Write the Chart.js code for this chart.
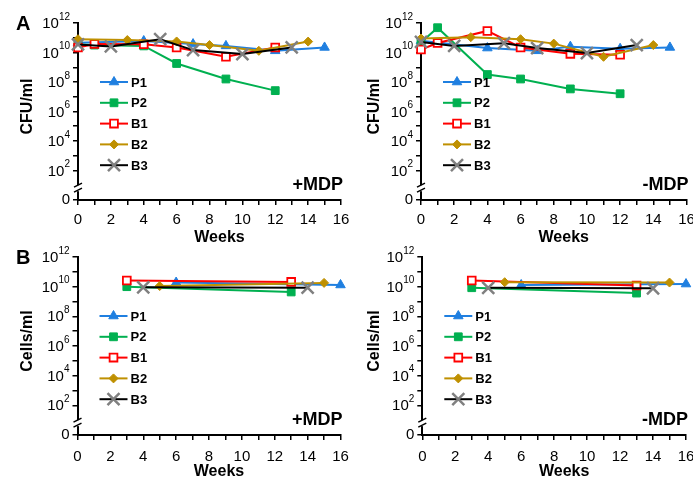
<!DOCTYPE html>
<html>
<head>
<meta charset="utf-8">
<script src="https://cdn.jsdelivr.net/npm/chart.js@4/dist/chart.umd.min.js"></script>
<style>
  html, body { margin: 0; padding: 0; background: #fff; overflow: hidden; }
  #wrap { position: relative; width: 693px; height: 479px; overflow: hidden; }
  #wrap canvas { position: absolute; left: 0; top: 0; }
</style>
</head>
<body>
<div id="wrap">
  <canvas id="aPlus" width="720" height="479"></canvas>
  <canvas id="aMinus" width="720" height="479"></canvas>
  <canvas id="bPlus" width="720" height="479"></canvas>
  <canvas id="bMinus" width="720" height="479"></canvas>
</div>
<script>
'use strict';

var seriesNames = ['P1', 'P2', 'B1', 'B2', 'B3'];

// sampling weeks, panel A (CFU/ml)
var weeksA_P1 = [0, 4, 7, 9, 12, 15];
var weeksA_P2 = [0, 1, 4, 6, 9, 12];
var weeksA_B1 = [0, 1, 4, 6, 9, 12];
var weeksA_B2 = [0, 3, 6, 8, 11, 14];
var weeksA_B3 = [0, 2, 5, 7, 10, 13];

// sampling weeks, panel B (Cells/ml)
var weeksB_P1 = [6, 16];
var weeksB_P2 = [3, 13];
var weeksB_B1 = [3, 13];
var weeksB_B2 = [5, 15];
var weeksB_B3 = [4, 14];

// A, +MDP
var aPlusP1 = [4.6e10, 6.0e10, 3.7e10, 2.8e10, 1.3e10, 2.2e10];
var aPlusP2 = [3.5e10, 3.2e10, 2.8e10, 1.8e9, 1.6e8, 2.6e7];
var aPlusB1 = [2.2e10, 3.8e10, 3.6e10, 2.2e10, 5.1e9, 2.2e10];
var aPlusB2 = [8.0e10, 7.0e10, 5.6e10, 3.2e10, 1.3e10, 5.5e10];
var aPlusB3 = [3.5e10, 2.6e10, 8.0e10, 1.45e10, 7.8e9, 2.2e10];

// A, -MDP
var aMinusP1 = [6.2e10, 2.0e10, 1.3e10, 2.5e10, 1.8e10, 2.2e10];
var aMinusP2 = [4.7e10, 4.8e11, 3.2e8, 1.6e8, 3.4e7, 1.6e7];
var aMinusB1 = [1.6e10, 4.4e10, 2.9e11, 2.2e10, 8.1e9, 7.1e9];
var aMinusB2 = [8.9e10, 1.1e11, 8.0e10, 4.0e10, 5.1e9, 3.2e10];
var aMinusB3 = [5.2e10, 2.8e10, 4.3e10, 2.0e10, 9.1e9, 3.2e10];

// B, +MDP
var bPlusP1 = [1.9e10, 1.3e10];
var bPlusP2 = [1.0e10, 4.4e9];
var bPlusB1 = [2.6e10, 2.1e10];
var bPlusB2 = [1.1e10, 1.8e10];
var bPlusB3 = [9.1e9, 8.5e9];

// B, -MDP
var bMinusP1 = [1.3e10, 1.5e10];
var bMinusP2 = [8.5e9, 3.7e9];
var bMinusB1 = [2.6e10, 1.2e10];
var bMinusB2 = [2.0e10, 1.9e10];
var bMinusB3 = [8.3e9, 7.8e9];

// y axis: tick marks at decades, labels at even powers ("0" stands for 10^0)
var tickExps = [0, 2, 3, 4, 5, 6, 7, 8, 9, 10, 11, 12];
var labelExps = [0, 2, 4, 6, 8, 10, 12];

var W = 720, H = 479;
var FONT = "Arial, 'Liberation Sans', sans-serif";
Chart.defaults.font.family = FONT;
Chart.defaults.color = '#000';

var styles = {
  P1: { line: '#1F7FE0', shape: 'triangle', r: 5.5, fill: '#1F7FE0', edge: '#1F7FE0', bw: 1 },
  P2: { line: '#00B050', shape: 'rect', r: 5.5, fill: '#00B050', edge: '#00B050', bw: 1 },
  B1: { line: '#FF0000', shape: 'rect', r: 5.5, fill: '#FFFFFF', edge: '#FF0000', bw: 1.8 },
  B2: { line: '#BF9000', shape: 'rectRot', r: 4.5, fill: '#BF9000', edge: '#BF9000', bw: 1 },
  B3: { line: '#000000', shape: 'crossRot', r: 8.5, fill: '#808080', edge: '#808080', bw: 2.5 }
};

var decor = {
  id: 'decor',
  afterDraw: function (chart, args, opts) {
    var ctx = chart.ctx, area = chart.chartArea, y = chart.scales.y;
    var ax = area.left;
    ctx.save();
    ctx.fillStyle = '#000';
    ctx.textBaseline = 'middle';
    ctx.textAlign = 'right';
    labelExps.forEach(function (e) {
      var py = y.getPixelForValue(Math.pow(10, e));
      var rx = ax - 8;
      if (e === 0) {
        ctx.font = '15px ' + FONT;
        ctx.fillText('0', rx, py);
        return;
      }
      ctx.font = '10px ' + FONT;
      var ew = ctx.measureText(String(e)).width;
      ctx.fillText(String(e), rx, py - 6);
      ctx.font = '15px ' + FONT;
      ctx.fillText('10', rx - ew, py + 1);
    });

    // axis break between 0 and 10^2
    var by = y.getPixelForValue(Math.pow(10, 0.8));
    ctx.fillStyle = '#fff';
    ctx.fillRect(ax - 3, by - 3, 6, 6);
    ctx.strokeStyle = '#000';
    ctx.lineWidth = 1.5;
    ctx.beginPath();
    ctx.moveTo(ax - 4, by - 1); ctx.lineTo(ax + 4, by - 5);
    ctx.moveTo(ax - 4, by + 4); ctx.lineTo(ax + 4, by);
    ctx.stroke();

    // legend inside the plot
    var drawPoint = Chart.helpers && Chart.helpers.drawPoint;
    chart.data.datasets.forEach(function (ds, i) {
      var ly = area.top + 59 + i * 20.8;
      var lx = ax + 22;
      ctx.strokeStyle = ds.borderColor;
      ctx.lineWidth = 2;
      ctx.beginPath(); ctx.moveTo(lx, ly); ctx.lineTo(lx + 28, ly); ctx.stroke();
      if (drawPoint) {
        ctx.fillStyle = ds.pointBackgroundColor;
        ctx.strokeStyle = ds.pointBorderColor;
        ctx.lineWidth = ds.pointBorderWidth;
        drawPoint(ctx, { pointStyle: ds.pointStyle, radius: ds.pointRadius, borderWidth: ds.pointBorderWidth, rotation: 0 }, lx + 14, ly);
      }
      ctx.fillStyle = '#000';
      ctx.textAlign = 'left';
      ctx.font = 'bold 13px ' + FONT;
      ctx.fillText(ds.label, lx + 31, ly + 1);
    });

    // titles, tag, panel letter
    ctx.fillStyle = '#000';
    ctx.font = 'bold 16px ' + FONT;
    ctx.textAlign = 'center';
    ctx.fillText('Weeks', (area.left + area.right) / 2 + 10, area.bottom + opts.xTitleDy);
    ctx.save();
    ctx.translate(opts.yTitleX, (area.top + area.bottom) / 2 - 5);
    ctx.rotate(-Math.PI / 2);
    ctx.fillText(opts.yTitle, 0, 0);
    ctx.restore();

    ctx.textAlign = 'right';
    ctx.font = 'bold 18px ' + FONT;
    ctx.fillText(opts.tag, area.right + 2, area.bottom - 15);
    if (opts.letter) {
      ctx.textAlign = 'left';
      ctx.textBaseline = 'alphabetic';
      ctx.font = 'bold 20px ' + FONT;
      ctx.fillText(opts.letter, 16, area.top + 7);
    }
    ctx.restore();
  }
};

function makePanel(id, p) {
  var datasets = seriesNames.map(function (name, i) {
    var st = styles[name];
    return {
      label: name,
      data: p.weeks[i].map(function (w, k) { return { x: w, y: p.values[i][k] }; }),
      borderColor: st.line,
      borderWidth: 2,
      pointStyle: st.shape,
      pointRadius: st.r,
      pointBackgroundColor: st.fill,
      pointBorderColor: st.edge,
      pointBorderWidth: st.bw,
      tension: 0,
      clip: false,
      order: 4 - i
    };
  });
  var padLeft = p.left > 346 ? 346 : 0;
  new Chart(document.getElementById(id), {
    type: 'line',
    data: { datasets: datasets },
    plugins: [decor],
    options: {
      responsive: false,
      animation: false,
      devicePixelRatio: 1,
      layout: { padding: { left: padLeft, right: W - p.right, top: p.top, bottom: H - p.bottom - p.xH } },
      plugins: {
        legend: { display: false },
        tooltip: { enabled: false },
        decor: { tag: p.tag, letter: p.letter, yTitle: p.yTitle, yTitleX: p.yTitleX, xTitleDy: p.xTitleDy }
      },
      scales: {
        x: {
          type: 'linear', min: 0, max: 16,
          ticks: {
            stepSize: 1, autoSkip: false, maxRotation: 0, padding: p.tickPad,
            font: { size: 15 }, color: '#000',
            callback: function (v) { return v % 2 === 0 ? String(v) : ''; }
          },
          grid: { drawOnChartArea: false, drawTicks: true, tickLength: 5, tickColor: '#000', lineWidth: 1.5 },
          border: { display: true, color: '#000', width: 2 },
          afterFit: function (s) { s.height = p.xH; }
        },
        y: {
          type: 'logarithmic', min: 1, max: 1e12,
          afterBuildTicks: function (s) {
            s.ticks = tickExps.map(function (e) { return { value: Math.pow(10, e) }; });
          },
          ticks: { display: false, autoSkip: false },
          grid: { drawOnChartArea: false, drawTicks: true, tickLength: 5, tickColor: '#000', lineWidth: 1.5 },
          border: { display: true, color: '#000', width: 2 },
          afterFit: function (s) { s.width = p.left - padLeft; s.paddingTop = 0; s.paddingBottom = 0; }
        }
      }
    }
  });
}

var weeksA = [weeksA_P1, weeksA_P2, weeksA_B1, weeksA_B2, weeksA_B3];
var weeksB = [weeksB_P1, weeksB_P2, weeksB_B1, weeksB_B2, weeksB_B3];

makePanel('aPlus', {
  weeks: weeksA, values: [aPlusP1, aPlusP2, aPlusB1, aPlusB2, aPlusB3],
  left: 78, right: 341, top: 23, bottom: 200, xH: 46, tickPad: 6,
  yTitle: 'CFU/ml', yTitleX: 28, xTitleDy: 38, tag: '+MDP', letter: 'A'
});
makePanel('aMinus', {
  weeks: weeksA, values: [aMinusP1, aMinusP2, aMinusB1, aMinusB2, aMinusB3],
  left: 421, right: 686.5, top: 23, bottom: 200, xH: 46, tickPad: 6,
  yTitle: 'CFU/ml', yTitleX: 375, xTitleDy: 38, tag: '-MDP'
});
makePanel('bPlus', {
  weeks: weeksB, values: [bPlusP1, bPlusP2, bPlusB1, bPlusB2, bPlusB3],
  left: 77.5, right: 340.5, top: 257, bottom: 435, xH: 44, tickPad: 8,
  yTitle: 'Cells/ml', yTitleX: 28, xTitleDy: 37, tag: '+MDP', letter: 'B'
});
makePanel('bMinus', {
  weeks: weeksB, values: [bMinusP1, bMinusP2, bMinusB1, bMinusB2, bMinusB3],
  left: 422.3, right: 686, top: 257, bottom: 435, xH: 44, tickPad: 8,
  yTitle: 'Cells/ml', yTitleX: 375, xTitleDy: 37, tag: '-MDP'
});
</script>
</body>
</html>
